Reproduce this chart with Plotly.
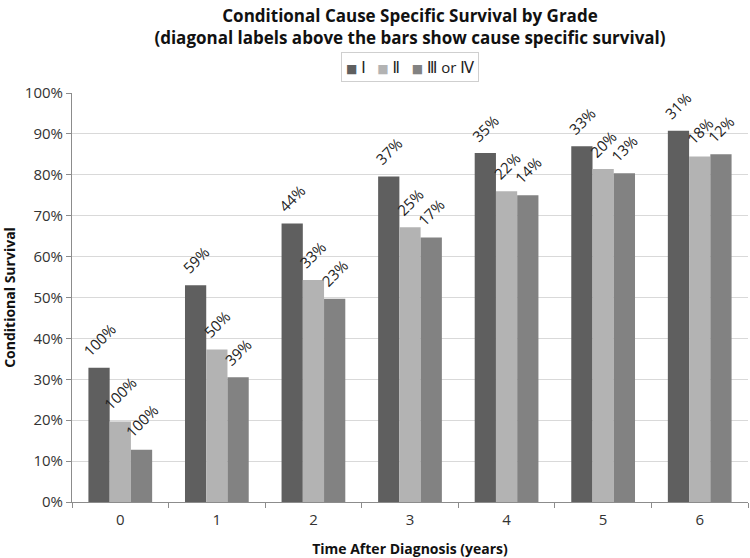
import plotly.graph_objects as go

years = ["0", "1", "2", "3", "4", "5", "6"]
grade_names = ["Ⅰ", "Ⅱ", "Ⅲ or Ⅳ"]
cond_I = [32.8, 53.0, 68.1, 79.6, 85.3, 87.0, 90.8]
cond_II = [19.7, 37.3, 54.3, 67.2, 76.0, 81.4, 84.5]
cond_III = [12.8, 30.5, 49.7, 64.7, 75.0, 80.4, 85.0]
css_I = [100, 59, 44, 37, 35, 33, 31]
css_II = [100, 50, 33, 25, 22, 20, 18]
css_III = [100, 39, 23, 17, 14, 13, 12]
colors = ["#5f5f5f", "#b3b3b3", "#828282"]

FONT = "Open Sans, Noto Sans, DejaVu Sans, sans-serif"
BARGAP = 0.34
bw = (1 - BARGAP) / 3
W, H = 750, 558
ML, MR, MT, MB = 72, 2, 93, 56

fig = go.Figure()
series = [cond_I, cond_II, cond_III]
labels = [css_I, css_II, css_III]
for name, vals, col in zip(grade_names, series, colors):
    fig.add_trace(go.Bar(
        x=years, y=vals, name=name, marker=dict(color=col, line=dict(width=0)),
        showlegend=False, hoverinfo="skip",
    ))

# diagonal labels above bars
for k, (vals, css) in enumerate(zip(series, labels)):
    off = (k - 1) * bw
    for i, (v, c) in enumerate(zip(vals, css)):
        fig.add_annotation(
            x=i + off, y=v, xref="x", yref="y", text=f"{c}%",
            textangle=-45, showarrow=False, xanchor="center", yanchor="bottom",
            yshift=5, font=dict(size=15, color="#222222", family=FONT),
        )

# legend as a boxed annotation
legend_text = "   ".join(
    f"<span style='color:{c};font-size:12px'>■</span> {n}" for n, c in zip(grade_names, colors)
)
fig.add_annotation(
    x=0.5, y=1 + (MT - 67) / (H - MT - MB), xref="paper", yref="paper",
    text=legend_text, showarrow=False,
    xanchor="center", yanchor="middle", bordercolor="#cfcfcf", borderwidth=1,
    borderpad=4, font=dict(size=15, color="#222222", family=FONT),
)

fig.update_layout(
    width=W, height=H,
    margin=dict(l=ML, r=MR, t=MT, b=MB, autoexpand=False),
    paper_bgcolor="white", plot_bgcolor="white",
    barmode="group", bargap=BARGAP, bargroupgap=0,
    title=dict(
        text="<b>Conditional Cause Specific Survival by Grade<br>(diagonal labels above the bars show cause specific survival)</b>",
        x=0.5, xanchor="center", xref="paper", yref="container", y=1 - 22 / H, yanchor="middle",
        font=dict(size=17, family=FONT, color="#111111"),
    ),
    showlegend=False,
    font=dict(family=FONT, color="#333333"),
)

fig.update_yaxes(
    range=[0, 100], dtick=10, ticksuffix="%", automargin=False,
    showgrid=True, gridcolor="#d9d9d9", gridwidth=1,
    showline=True, linecolor="#8c8c8c", linewidth=1,
    ticks="outside", ticklen=5, tickcolor="#8c8c8c",
    tickfont=dict(size=15, color="#333333", family=FONT),
    title=dict(text="<b>Conditional Survival</b>", font=dict(size=14, color="#111111", family=FONT), standoff=8),
    zeroline=False,
)
fig.update_xaxes(
    automargin=False, range=[-0.5, 6.5],
    showline=True, linecolor="#8c8c8c", linewidth=1,
    ticks="outside", ticklen=5, tickcolor="#8c8c8c", tickson="boundaries",
    ticklabelstandoff=4,
    tickfont=dict(size=15, color="#333333", family=FONT),
    title=dict(text="<b>Time After Diagnosis (years)</b>", font=dict(size=14, color="#111111", family=FONT), standoff=16),
)

fig.write_html(
    "out.html",
    config={"displayModeBar": False},
    post_script="document.body.style.margin='0';document.body.style.overflow='hidden';",
)
